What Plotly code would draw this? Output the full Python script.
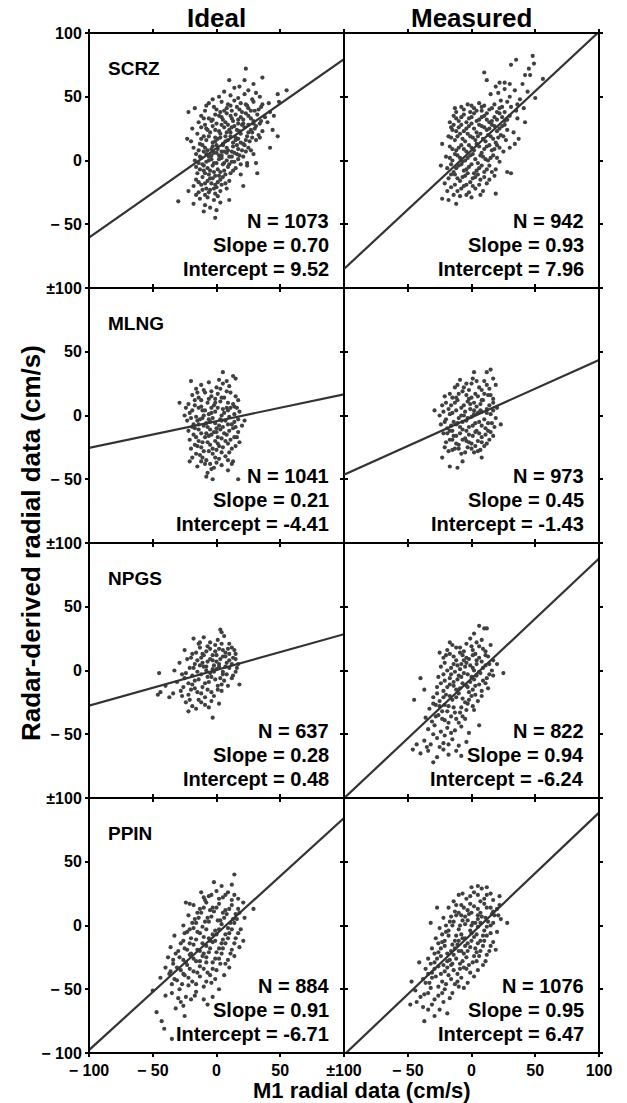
import plotly.graph_objects as go
from plotly.subplots import make_subplots

STATIONS = ["SCRZ", "MLNG", "NPGS", "PPIN"]
COLUMN_TITLES = ["Ideal", "Measured"]
N_VALUES = [[1073, 942], [1041, 973], [637, 822], [884, 1076]]
SLOPES = [[0.70, 0.93], [0.21, 0.45], [0.28, 0.94], [0.91, 0.95]]
INTERCEPT_LABELS = [["9.52", "7.96"], ["-4.41", "-1.43"], ["0.48", "-6.24"], ["-6.71", "6.47"]]
# intercepts of the drawn regression lines (PPIN measured line is drawn through -6.47)
LINE_INTERCEPTS = [[9.52, 7.96], [-4.41, -1.43], [0.48, -6.24], [-6.71, -6.47]]

TICK_VALS = [-100, -50, 0, 50, 100]
X_TICKTEXT_LEFT = ["\u2212 100", "\u2212 50", "0", "50", "\u00b1100"]
X_TICKTEXT_RIGHT = ["", "\u2212 50", "0", "50", "100"]
Y_TICKTEXT_TOP = ["", "\u2212 50", "0", "50", "100"]
Y_TICKTEXT_MID = ["", "\u2212 50", "0", "50", "\u00b1100"]
Y_TICKTEXT_BOTTOM = ["\u2212 100", "\u2212 50", "0", "50", "\u00b1100"]

# Estimated scatter points (cm/s)
SCRZ_IDEAL = [
    (23, 72), (10, 63), (22, 63), (29, 60), (36, 65), (18, 58),
    (14, 57), (25, 55), (55, 55), (6, 54), (31, 53),
    (2, 50), (11, 51), (17, 49), (22, 52), (28, 48), (34, 50), (48, 52), (-3, 48),
    (-6, 45), (4, 46), (9, 44), (14, 47), (19, 45), (24, 43), (29, 46), (36, 44), (41, 45), (49, 46),
    (-17, 41), (-9, 39), (-2, 42), (3, 38), (8, 41), (12, 39), (16, 42), (20, 38), (25, 41), (30, 39), (35, 42), (42, 38),
    (-22, 38), (-12, 35), (-6, 33), (-1, 36), (4, 34), (8, 37), (12, 33), (15, 36), (19, 34), (23, 37), (27, 33), (32, 36), (38, 34), (45, 35),
    (-14, 30), (-9, 28), (-4, 31), (0, 29), (5, 32), (9, 28), (13, 31), (17, 29), (21, 32), (25, 28), (29, 31), (34, 29), (40, 30),
    (-19, 25), (-12, 26), (-7, 24), (-3, 27), (2, 23), (6, 26), (10, 24), (14, 27), (18, 23), (22, 26), (27, 24), (31, 27), (36, 23), (44, 24),
    (-23, 17), (-15, 21), (-10, 19), (-5, 22), (-1, 18), (3, 21), (7, 19), (11, 22), (15, 18), (19, 21), (24, 19), (28, 22), (34, 18), (48, 19),
    (-20, 15), (-13, 13), (-8, 16), (-3, 14), (1, 17), (5, 13), (9, 16), (13, 14), (17, 17), (21, 13), (26, 15), (31, 16),
    (-18, 10), (-11, 12), (-7, 8), (-3, 11), (1, 9), (5, 12), (9, 8), (13, 11), (17, 9), (22, 12), (27, 8), (42, 10),
    (-16, 5), (-10, 7), (-6, 3), (-2, 6), (2, 4), (6, 7), (10, 3), (14, 6), (18, 4), (23, 7), (29, 5),
    (-17, 0), (-12, 2), (-8, -1), (-4, 1), (0, -2), (4, 2), (8, 0), (12, -1), (17, 1), (24, -2), (31, -2),
    (-16, -5), (-11, -3), (-7, -6), (-3, -4), (1, -7), (5, -3), (9, -5), (15, -6), (24, -4), (32, -10),
    (-15, -10), (-10, -8), (-6, -11), (-2, -9), (2, -12), (6, -8), (11, -10), (19, -11),
    (-16, -15), (-11, -13), (-7, -16), (-3, -14), (1, -17), (5, -13), (10, -16), (21, -20),
    (-18, -20), (-12, -19), (-8, -22), (-4, -18), (0, -21), (4, -19), (8, -22), (-22, -24),
    (-14, -25), (-9, -27), (-5, -23), (-1, -26), (3, -24),
    (-30, -32), (-13, -30), (-18, -34), (-7, -29), (-9, -35), (-2, -31), (10, -31), (3, -33),
    (-10, -40), (0, -39), (-1, -45), (-5, -37),
    (-8, 43), (0, 40), (6, 39), (11, 43), (18, 40), (23, 44), (27, 39), (33, 40),
    (-10, 33), (-3, 32), (2, 35), (7, 30), (11, 35), (17, 32), (21, 29), (25, 35), (29, 29), (35, 31),
    (-8, 25), (-1, 24), (4, 28), (8, 22), (12, 26), (16, 24), (20, 28), (25, 22), (30, 25), (33, 20),
    (-12, 17), (-6, 19), (-1, 15), (3, 18), (7, 15), (11, 19), (15, 16), (19, 14), (23, 16), (28, 18),
    (-14, 8), (-9, 10), (-4, 9), (0, 12), (4, 7), (8, 10), (12, 7), (16, 12), (20, 8), (25, 10),
    (-13, 3), (-8, 5), (-4, 4), (0, 6), (4, 4), (8, 6), (12, 3), (16, 5), (21, 3),
    (-14, -2), (-10, -4), (-6, 0), (-2, -2), (2, 1), (6, -2), (10, -3), (14, -1), (19, -3),
    (-13, -7), (-9, -10), (-5, -8), (-1, -12), (3, -9), (7, -11), (13, -8),
    (-14, -17), (-9, -18), (-5, -14), (-1, -19), (3, -15), (7, -18),
    (-11, -23), (-6, -25), (-2, -22), (1, -28), (-16, -27),
]
SCRZ_MEASURED = [
    (48, 82), (35, 79), (49, 76), (31, 75), (45, 72), (42, 67), (46, 67), (10, 69), (12, 63), (56, 64),
    (22, 61), (26, 61), (30, 60), (26, 56), (34, 55), (40, 60), (44, 54), (50, 49), (19, 58), (21, 53),
    (15, 52), (30, 50), (38, 48), (41, 41), (36, 44), (28, 46), (23, 47),
    (-8, 42), (-3, 44), (2, 41), (6, 45), (10, 43), (14, 40), (18, 44), (22, 41), (26, 38), (31, 42), (35, 39), (-12, 38), (-1, 38), (8, 39),
    (-14, 35), (-10, 31), (-6, 36), (-2, 33), (2, 37), (6, 32), (10, 35), (14, 30), (18, 34), (22, 37), (26, 31), (30, 35), (36, 33), (42, 30), (-17, 30),
    (-16, 26), (-12, 23), (-8, 28), (-4, 25), (0, 29), (4, 22), (8, 27), (12, 24), (16, 28), (20, 23), (24, 27), (28, 24), (33, 22), (-15, 24), (37, 17),
    (-18, 19), (-13, 16), (-9, 21), (-5, 15), (-1, 19), (3, 16), (7, 21), (11, 15), (15, 19), (19, 14), (23, 20), (27, 16), (34, 13), (-23, 13),
    (-17, 11), (-12, 8), (-8, 12), (-4, 7), (0, 10), (4, 13), (8, 6), (12, 11), (16, 8), (20, 12), (25, 7), (30, 10),
    (-20, 3), (-15, 0), (-11, 4), (-7, -1), (-3, 2), (1, 5), (5, -2), (9, 3), (13, 0), (17, 4), (22, -1), (-24, -4),
    (-19, -6), (-14, -9), (-10, -4), (-6, -8), (-2, -5), (2, -10), (6, -6), (10, -9), (14, -4), (19, -7), (31, -10), (28, -9),
    (-18, -14), (-13, -11), (-9, -16), (-5, -12), (-1, -17), (3, -13), (7, -15), (12, -18), (18, -12), (-21, -18),
    (-16, -21), (-11, -24), (-6, -20), (-2, -25), (3, -22), (9, -24), (19, -26), (7, -27), (-14, -27),
    (-23, -30), (-18, -31), (-12, -34), (-4, -27), (0, -29),
    (-13, 41), (-6, 40), (0, 43), (4, 39), (8, 42), (12, 37), (16, 41), (20, 38), (24, 42),
    (-12, 33), (-8, 34), (-4, 30), (0, 34), (4, 31), (8, 34), (12, 32), (16, 31), (20, 32), (24, 34), (28, 32),
    (-14, 28), (-10, 26), (-6, 23), (-2, 27), (2, 25), (6, 28), (10, 26), (14, 25), (18, 27), (22, 25), (26, 28),
    (-16, 18), (-11, 19), (-7, 17), (-3, 21), (1, 18), (5, 19), (9, 17), (13, 20), (17, 17), (21, 18), (25, 19),
    (-15, 9), (-10, 10), (-6, 9), (-2, 12), (2, 8), (6, 11), (10, 9), (14, 12), (18, 9), (22, 10),
    (-17, 2), (-13, 5), (-9, 2), (-5, 0), (-1, 4), (3, 1), (7, 4), (11, 1), (15, 2), (20, 2),
    (-16, -3), (-12, -6), (-8, -3), (-4, -7), (0, -3), (4, -8), (8, -4), (12, -7), (16, -9),
    (-16, -11), (-11, -14), (-7, -13), (-3, -10), (1, -14), (5, -11), (10, -13), (14, -15),
    (-13, -19), (-8, -22), (-4, -19), (1, -20), (6, -19), (-19, -24), (-9, -28),
]
MLNG_IDEAL = [
    (5, 34), (13, 31), (15, 29), (-20, 27), (-29, 10), (22, -4), (-7, -45), (-4, -42), (17, -50), (12, -38), (-8, -48), (-3, -50),
    (-12, 24), (-6, 26), (0, 22), (5, 25), (10, 23), (-16, 21), (2, 28), (8, 27),
    (-19, 16), (-14, 14), (-9, 18), (-4, 15), (1, 17), (6, 14), (11, 18), (15, 15), (-1, 13),
    (-22, 9), (-17, 12), (-12, 7), (-7, 10), (-2, 8), (3, 11), (8, 6), (13, 9), (17, 12), (-24, 6),
    (-21, 2), (-16, -1), (-11, 4), (-6, 1), (-1, 3), (4, 0), (9, 4), (14, 1), (18, 3), (-25, 0),
    (-23, -4), (-18, -7), (-13, -3), (-8, -6), (-3, -2), (2, -8), (7, -4), (12, -7), (17, -3), (20, -8),
    (-22, -12), (-17, -10), (-12, -14), (-7, -9), (-2, -13), (3, -11), (8, -15), (13, -10), (17, -13),
    (-21, -19), (-16, -17), (-11, -21), (-6, -16), (-1, -20), (4, -18), (9, -22), (14, -17), (18, -21),
    (-20, -26), (-15, -24), (-10, -28), (-5, -23), (0, -27), (5, -25), (10, -29), (15, -24),
    (-19, -33), (-13, -31), (-8, -35), (-3, -30), (2, -34), (7, -32), (13, -36), (-21, -36),
    (-15, -40), (-9, -38), (-2, -41), (4, -39), (9, -43),
    (-5, -5), (0, -10), (-10, 0), (5, 5), (-8, -14), (3, -3), (-4, 6), (1, -17), (-14, -7), (10, -1),
    (-10, 20), (-4, 19), (3, 21), (8, 19), (-15, 18),
    (-17, 8), (-12, 12), (-6, 13), (-1, 10), (4, 14), (9, 10), (14, 7),
    (-19, 4), (-14, 6), (-9, 4), (-4, 2), (1, 6), (6, 2), (11, 6), (16, 6),
    (-20, -2), (-15, -4), (-11, -2), (-6, -3), (-1, -6), (4, -4), (9, -7), (14, -5),
    (-19, -9), (-14, -11), (-10, -8), (-5, -11), (0, -13), (5, -9), (10, -12), (15, -9),
    (-18, -15), (-14, -20), (-9, -17), (-4, -15), (1, -22), (6, -14), (11, -19), (16, -17),
    (-17, -23), (-12, -25), (-7, -21), (-3, -26), (2, -24), (7, -20), (12, -26),
    (-16, -30), (-11, -33), (-6, -28), (-1, -33), (4, -29), (9, -35),
    (-12, -36), (-5, -38), (0, -37),
]
MLNG_MEASURED = [
    (15, 36), (12, 34), (2, 34), (19, 24), (-29, 4), (23, -7), (-23, -33), (-17, -40), (-11, -41), (-7, -36), (8, -33),
    (-9, 28), (-4, 25), (1, 29), (6, 22), (10, 27), (14, 21), (-13, 22), (-2, 20), (17, 29),
    (-17, 17), (-12, 14), (-7, 19), (-2, 13), (3, 17), (8, 12), (13, 16), (17, 13), (-21, 15),
    (-23, 8), (-18, 5), (-13, 10), (-8, 6), (-3, 11), (2, 4), (7, 9), (12, 5), (17, 10), (20, 6),
    (-25, 0), (-20, -3), (-15, 2), (-10, -2), (-5, 3), (0, -1), (5, 2), (10, -3), (15, 1), (19, -2),
    (-24, -7), (-19, -10), (-14, -5), (-9, -9), (-4, -4), (1, -8), (6, -5), (11, -10), (16, -6),
    (-22, -14), (-17, -12), (-12, -16), (-7, -11), (-2, -15), (3, -13), (8, -17), (13, -12), (17, -16),
    (-20, -21), (-15, -19), (-10, -23), (-5, -18), (0, -22), (5, -20), (10, -24), (14, -19),
    (-18, -28), (-13, -26), (-8, -30), (-3, -25), (2, -29), (7, -27), (-21, -25),
    (-6, 0), (-1, 5), (4, -12), (-11, -6), (2, 10), (-4, -20), (8, 3), (-15, -12),
    (-11, 24), (-6, 22), (0, 25), (4, 27), (8, 20), (12, 24),
    (-15, 14), (-10, 17), (-4, 16), (0, 14), (5, 15), (10, 17), (15, 16),
    (-20, 10), (-16, 8), (-11, 12), (-6, 8), (-1, 9), (4, 7), (9, 12), (14, 8),
    (-22, 3), (-17, 1), (-12, 4), (-8, 0), (-3, -2), (2, 1), (7, 4), (12, 2), (17, 4),
    (-21, -5), (-16, -8), (-12, -7), (-7, -5), (-2, -9), (3, -6), (8, -8), (13, -6), (18, -9),
    (-19, -14), (-14, -16), (-9, -14), (-4, -12), (1, -16), (6, -14), (11, -15), (15, -13),
    (-17, -19), (-12, -22), (-7, -19), (-2, -21), (3, -24), (8, -21), (12, -22),
    (-15, -27), (-10, -26), (-5, -29), (0, -26), (5, -28),
]
NPGS_IDEAL = [
    (3, 32), (4, 30), (-45, -2), (-46, -19), (-44, -17), (-3, -37), (18, -11), (-22, -32), (-37, -21), (-40, -12),
    (-18, 25), (-10, 26), (-5, 22), (1, 24), (6, 27), (10, 21), (-14, 21),
    (-25, 16), (-19, 13), (-13, 18), (-8, 15), (-3, 12), (2, 17), (7, 14), (12, 18), (15, 13),
    (-29, 6), (-23, 9), (-17, 5), (-12, 10), (-7, 7), (-2, 4), (3, 9), (8, 6), (13, 10), (17, 5),
    (-33, 0), (-27, -3), (-21, 2), (-15, -1), (-10, 3), (-5, -2), (0, 1), (5, -3), (10, 2), (15, -1),
    (-31, -9), (-25, -6), (-19, -11), (-14, -7), (-9, -10), (-4, -5), (1, -12), (6, -8), (12, -6),
    (-28, -16), (-22, -19), (-17, -14), (-12, -18), (-7, -15), (-2, -20), (4, -16), (-34, -18),
    (-24, -25), (-19, -28), (-14, -23), (-9, -27), (-4, -24), (2, -26), (-16, -30),
    (-3, 8), (2, 3), (-8, 0), (7, 11), (-1, 15), (5, -1), (-11, 6),
    (-13, 22), (-7, 19), (-1, 20), (4, 21), (9, 17),
    (-16, 14), (-11, 13), (-5, 17), (0, 12), (5, 16), (10, 13), (14, 16),
    (-20, 10), (-15, 8), (-10, 12), (-5, 9), (0, 7), (5, 11), (10, 8), (15, 9),
    (-18, 2), (-13, 4), (-8, 3), (-3, 1), (2, 5), (7, 3), (12, 5), (16, 2),
    (-24, -2), (-19, -4), (-12, -3), (-7, -5), (-2, -1), (3, -6), (8, -3), (13, -4),
    (-22, -10), (-17, -8), (-11, -13), (-6, -9), (-1, -7), (4, -11), (9, -12),
    (-26, -13), (-20, -15), (-15, -17), (-9, -21), (-4, -17), (1, -15),
    (-21, -23), (-12, -25), (-6, -29), (-27, -20),
]
NPGS_MEASURED = [
    (6, 35), (10, 33), (12, 33), (2, 29), (-1, 25), (8, 24),
    (-15, 20), (-9, 18), (-4, 21), (1, 16), (6, 19), (11, 15), (-19, 16), (15, 20),
    (-22, 10), (-17, 13), (-12, 8), (-7, 12), (-2, 9), (3, 13), (8, 7), (13, 11), (-25, 14), (17, 8),
    (-24, 3), (-19, 0), (-14, 5), (-9, 1), (-4, 6), (1, 2), (6, -1), (11, 4), (16, 0), (25, -2), (20, 5),
    (-40, -6), (-26, -5), (-21, -8), (-16, -3), (-11, -7), (-6, -2), (-1, -9), (4, -4), (9, -8), (14, -3),
    (-37, -15), (-27, -13), (-22, -16), (-17, -11), (-12, -15), (-7, -10), (-2, -17), (3, -12), (8, -16), (13, -14),
    (-45, -23), (-30, -21), (-25, -24), (-20, -19), (-15, -23), (-10, -18), (-5, -25), (0, -20), (5, -24),
    (-33, -30), (-28, -27), (-23, -32), (-18, -28), (-13, -33), (-8, -29), (-3, -26), (2, -31), (-21, -27),
    (-36, -37), (-31, -40), (-26, -35), (-21, -39), (-16, -36), (-10, -41), (-5, -38), (6, -43),
    (-34, -46), (-29, -43), (-24, -48), (-19, -45), (-13, -47), (-8, -44), (-2, -49),
    (-37, -55), (-32, -58), (-27, -53), (-22, -57), (-15, -54), (-10, -59), (-4, -56),
    (-46, -62), (-40, -65), (-34, -63), (-27, -68), (-22, -62), (-18, -66), (-12, -63), (-30, -72), (-8, -67),
    (-5, 3), (0, -5), (-10, -4), (4, 8), (-3, -13), (-8, 5), (2, 0), (-14, -9),
    (-12, 18), (-6, 15), (0, 19), (4, 22), (9, 17), (-17, 22),
    (-20, 12), (-14, 11), (-9, 14), (-4, 10), (1, 12), (6, 10), (11, 12),
    (-21, 6), (-16, 2), (-11, 4), (-6, 8), (-1, 4), (4, 5), (9, 2), (14, 5),
    (-22, -3), (-17, -6), (-13, -1), (-8, -5), (-3, -3), (2, -7), (7, -2), (12, -6), (17, -4),
    (-24, -10), (-19, -13), (-14, -12), (-9, -14), (-4, -12), (1, -15), (6, -11), (11, -10),
    (-27, -18), (-22, -21), (-17, -20), (-12, -21), (-7, -22), (-2, -23), (3, -19), (8, -20),
    (-30, -26), (-25, -28), (-19, -32), (-14, -29), (-9, -33), (-4, -31), (1, -28),
    (-28, -36), (-23, -38), (-18, -41), (-12, -38), (-7, -36),
    (-30, -50), (-21, -51), (-16, -49), (-25, -60), (-18, -58), (-35, -60), (-43, -58),
]
PPIN_IDEAL = [
    (14, 40), (-2, 34), (12, 32), (4, 31), (-24, 18), (-21, 17), (29, 13),
    (-12, 26), (-6, 23), (0, 27), (5, 22), (9, 26), (14, 24), (17, 21), (-9, 20),
    (-18, 16), (-13, 13), (-8, 18), (-3, 14), (2, 17), (7, 12), (12, 16), (17, 13), (21, 18),
    (-22, 8), (-17, 5), (-12, 10), (-7, 6), (-2, 11), (3, 4), (8, 9), (13, 5), (18, 10), (22, 6),
    (-26, 0), (-21, -3), (-16, 2), (-11, -1), (-6, 3), (-1, -4), (4, 1), (9, -2), (14, 2), (19, -3),
    (-33, -8), (-25, -6), (-20, -10), (-15, -5), (-10, -9), (-5, -12), (0, -7), (5, -11), (10, -6), (15, -10), (21, -12),
    (-36, -17), (-28, -14), (-23, -19), (-18, -15), (-13, -20), (-8, -16), (-3, -13), (2, -18), (7, -14), (12, -19), (18, -17),
    (-38, -25), (-32, -22), (-26, -27), (-21, -23), (-16, -28), (-11, -24), (-6, -21), (-1, -26), (4, -22), (9, -27), (14, -24),
    (-40, -33), (-34, -30), (-28, -35), (-23, -31), (-18, -36), (-13, -32), (-8, -29), (-3, -34), (3, -30), (10, -33),
    (-44, -41), (-37, -38), (-31, -43), (-25, -39), (-19, -44), (-13, -40), (-7, -37), (-1, -42), (6, -39),
    (-50, -51), (-35, -46), (-29, -50), (-22, -47), (-16, -52), (-10, -48), (-4, -45), (2, -50),
    (-40, -55), (-30, -57), (-24, -56), (-17, -55), (-10, -58), (-3, -56),
    (-47, -68), (-43, -75), (-41, -81), (-35, -89), (-26, -63), (-25, -71), (-7, -62), (-32, -65),
    (-10, 22), (-4, 24), (2, 21), (7, 24), (12, 20),
    (-15, 10), (-10, 14), (-5, 12), (0, 14), (5, 10), (10, 13), (15, 9),
    (-19, 2), (-14, 6), (-9, 3), (-4, 7), (1, 4), (6, 6), (11, 2), (16, 5),
    (-23, -5), (-18, -2), (-13, -6), (-8, -3), (-3, -7), (2, -3), (7, -7), (12, -3), (17, -6),
    (-26, -12), (-21, -14), (-16, -11), (-11, -14), (-6, -10), (-1, -12), (4, -14), (9, -10), (14, -14),
    (-30, -20), (-25, -18), (-20, -22), (-15, -19), (-10, -22), (-5, -18), (0, -21), (5, -18), (11, -22),
    (-34, -27), (-29, -25), (-24, -29), (-18, -26), (-13, -28), (-8, -25), (-3, -29), (2, -26), (7, -30),
    (-36, -36), (-31, -33), (-26, -38), (-21, -34), (-15, -37), (-10, -34), (-5, -39), (0, -35),
    (-33, -42), (-27, -46), (-22, -41), (-16, -46), (-8, -44), (-35, -53), (-20, -58), (-28, -60),
]
PPIN_MEASURED = [
    (5, 31), (12, 30), (8, 29), (0, 30), (22, 23), (28, 2), (-27, 14), (-32, 2), (-41, -29), (19, -19),
    (-10, 24), (-4, 21), (2, 26), (7, 19), (12, 24), (17, 20), (-14, 19),
    (-18, 14), (-13, 11), (-8, 16), (-3, 12), (2, 15), (7, 10), (12, 14), (17, 11), (22, 16),
    (-22, 6), (-17, 3), (-12, 8), (-7, 4), (-2, 9), (3, 2), (8, 7), (13, 3), (18, 8), (23, 5),
    (-25, -2), (-20, -5), (-15, 0), (-10, -3), (-5, 1), (0, -6), (5, -1), (10, -4), (15, 0), (20, -5),
    (-28, -10), (-23, -13), (-18, -8), (-13, -12), (-8, -7), (-3, -14), (2, -9), (7, -12), (12, -8), (17, -13),
    (-31, -18), (-26, -21), (-21, -16), (-16, -20), (-11, -15), (-6, -22), (-1, -17), (4, -21), (9, -16), (14, -20),
    (-34, -26), (-29, -29), (-24, -24), (-19, -28), (-14, -23), (-9, -30), (-4, -25), (1, -29), (6, -24), (11, -28),
    (-36, -34), (-31, -37), (-26, -32), (-21, -36), (-16, -31), (-11, -38), (-6, -33), (-1, -37), (5, -35),
    (-47, -44), (-38, -42), (-33, -45), (-28, -40), (-23, -44), (-18, -39), (-13, -46), (-8, -41), (-3, -45),
    (-44, -51), (-37, -54), (-32, -49), (-26, -55), (-21, -50), (-15, -53), (-10, -48),
    (-48, -62), (-43, -60), (-37, -75), (-34, -66), (-25, -66), (-19, -69), (-29, -71), (-22, -60),
    (-5, -10), (0, 0), (-10, -20), (5, 5), (-15, -30), (3, -18), (-8, 8),
    (-7, 25), (-1, 23), (5, 24), (10, 21), (15, 25),
    (-12, 16), (-6, 14), (-1, 17), (5, 13), (10, 17), (15, 14), (20, 13),
    (-16, 7), (-10, 10), (-5, 7), (0, 10), (5, 8), (11, 6), (16, 9), (21, 8),
    (-20, 0), (-14, 3), (-9, 0), (-3, 4), (1, 2), (7, 2), (12, -1), (17, 2),
    (-23, -7), (-18, -4), (-12, -8), (-7, -10), (-1, -4), (4, -7), (9, -8), (15, -6),
    (-26, -14), (-21, -12), (-15, -15), (-10, -12), (-5, -16), (0, -12), (5, -14), (10, -12), (15, -16),
    (-29, -22), (-24, -18), (-19, -22), (-13, -18), (-8, -20), (-3, -20), (2, -24), (7, -20), (12, -23),
    (-32, -30), (-27, -26), (-22, -31), (-17, -27), (-12, -26), (-7, -28), (-2, -31), (4, -28), (9, -31),
    (-34, -38), (-29, -34), (-24, -38), (-19, -33), (-14, -35), (-9, -34), (-4, -34), (2, -40),
    (-36, -45), (-31, -41), (-26, -48), (-20, -46), (-16, -42), (-11, -44), (-6, -49),
    (-40, -56), (-34, -53), (-29, -58), (-23, -53), (-17, -57), (-38, -64), (-31, -62),
]

POINTS = [
    [SCRZ_IDEAL, SCRZ_MEASURED],
    [MLNG_IDEAL, MLNG_MEASURED],
    [NPGS_IDEAL, NPGS_MEASURED],
    [PPIN_IDEAL, PPIN_MEASURED],
]

FONT = "Liberation Sans, Arial, Helvetica, sans-serif"
DOT_COLOR = "#404040"
LINE_COLOR = "#333333"

fig = make_subplots(rows=4, cols=2, horizontal_spacing=0, vertical_spacing=0)

for r in range(4):
    for c in range(2):
        pts = POINTS[r][c]
        fig.add_trace(go.Scatter(
            x=[p[0] for p in pts], y=[p[1] for p in pts], mode="markers",
            marker=dict(size=4.2, color=DOT_COLOR, line=dict(width=0)),
            showlegend=False, hoverinfo="skip"), row=r + 1, col=c + 1)
        xs = [-100, 100]
        ys = [SLOPES[r][c] * xv + LINE_INTERCEPTS[r][c] for xv in xs]
        fig.add_trace(go.Scatter(
            x=xs, y=ys, mode="lines", line=dict(color=LINE_COLOR, width=2.2),
            showlegend=False, hoverinfo="skip"), row=r + 1, col=c + 1)
        if c == 0:
            fig.add_annotation(row=r + 1, col=c + 1, x=-87, y=72, text="<b>%s</b>" % STATIONS[r],
                               showarrow=False, xanchor="left", yanchor="middle",
                               font=dict(family=FONT, size=19, color="black"))
        stats = [("N = %d" % N_VALUES[r][c], -47.5),
                 ("Slope = %.2f" % SLOPES[r][c], -66.5),
                 ("Intercept = %s" % INTERCEPT_LABELS[r][c], -85)]
        for txt, yv in stats:
            fig.add_annotation(row=r + 1, col=c + 1, x=90, y=yv, text="<b>%s</b>" % txt,
                               showarrow=False, xanchor="right", yanchor="middle",
                               font=dict(family=FONT, size=20, color="black"))

axis_common = dict(range=[-100, 100], tickvals=TICK_VALS, showline=True, linewidth=1,
                   linecolor="black", mirror="ticks", ticks="outside", ticklen=3,
                   tickwidth=2, tickcolor="black", showgrid=False, zeroline=False,
                   tickfont=dict(family=FONT, size=16, color="black", weight="bold"))

for r in range(4):
    for c in range(2):
        fig.update_xaxes(row=r + 1, col=c + 1, ticktext=X_TICKTEXT_LEFT if c == 0 else X_TICKTEXT_RIGHT,
                         showticklabels=(r == 3), **axis_common)
        yt = Y_TICKTEXT_TOP if r == 0 else (Y_TICKTEXT_BOTTOM if r == 3 else Y_TICKTEXT_MID)
        fig.update_yaxes(row=r + 1, col=c + 1, ticktext=yt, showticklabels=(c == 0), **axis_common)

W, H = 627, 1103
L, R, T, B = 89, 28, 33, 50
PW, PH = W - L - R, H - T - B

# thicker outer frame, matching the 2 px border of the figure
fig.add_shape(type="rect", xref="paper", yref="paper", x0=0, x1=1, y0=0, y1=1,
              line=dict(color="black", width=2), fillcolor="rgba(0,0,0,0)", layer="above")

for i, title in enumerate(COLUMN_TITLES):
    fig.add_annotation(xref="paper", yref="paper", x=0.25 + 0.5 * i, y=1 + 15 / PH,
                       text="<b>%s</b>" % title, showarrow=False, xanchor="center", yanchor="middle",
                       font=dict(family=FONT, size=26, color="black"))

fig.add_annotation(xref="paper", yref="paper", x=(31 - L) / PW, y=0.5,
                   text="<b>Radar-derived radial data (cm/s)</b>", textangle=-90, showarrow=False,
                   xanchor="center", yanchor="middle", font=dict(family=FONT, size=26, color="black"))
fig.add_annotation(xref="paper", yref="paper", x=(362 - L) / PW, y=-(1090 - (H - B)) / PH,
                   text="<b>M1 radial data (cm/s)</b>", showarrow=False,
                   xanchor="center", yanchor="middle", font=dict(family=FONT, size=22, color="black"))

fig.update_layout(width=W, height=H, margin=dict(l=L, r=R, t=T, b=B, autoexpand=False),
                  paper_bgcolor="white", plot_bgcolor="white", showlegend=False)

fig.write_html("out.html")
